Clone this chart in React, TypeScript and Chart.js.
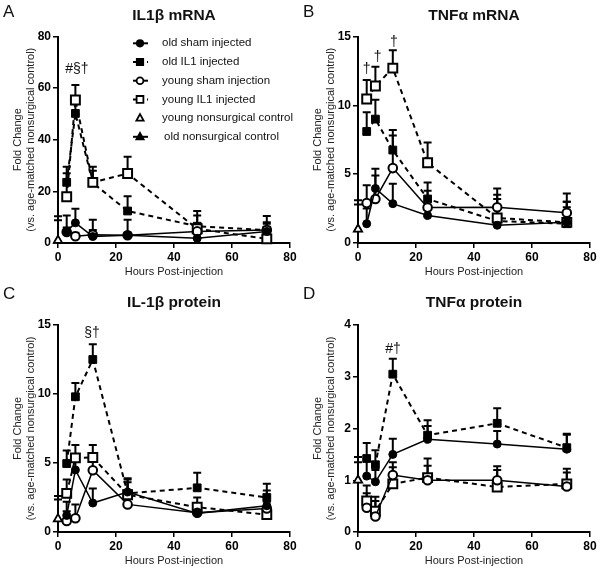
import React, { useEffect, useRef } from 'react';
import { Chart, registerables } from 'chart.js';
Chart.register(...registerables);

const FONT = "'Liberation Sans', Arial, Helvetica, sans-serif";

// ---------- shared ----------
const hours = [3, 6, 12, 24, 48, 72];
const controlHour = [0];
const xTickStep = 20;
const xMax = 80;
const seriesNames = [
  'old sham injected',
  'old IL1 injected',
  'young sham injection',
  'young IL1 injected',
  'young nonsurgical control',
  'old nonsurgical control',
];

// ---------- Panel A: IL1β mRNA ----------
const aOldSham = [4.5, 7.8, 2.5, 3.0, 1.8, 4.5];
const aOldShamTop = [10.7, 13.3, 9.0, 9.0, 5.0, 7.5];
const aOldIL1 = [23.5, 50.2, 23.3, 12.4, 6.5, 5.0];
const aOldIL1Top = [29.5, 54.0, 29.5, 18.1, 12.4, 10.5];
const aYoungSham = [4.3, 2.6, 3.2, 3.0, 4.5, 5.0];
const aYoungShamTop = [6.0, 4.0, 5.0, 4.0, 7.0, 8.0];
const aYoungIL1 = [17.9, 55.4, 23.5, 26.9, 5.5, 1.6];
const aYoungIL1Top = [27.0, 61.2, 28.0, 33.4, 10.7, 4.0];
const aYoungCtrl = [1.0];
const aYoungCtrlTop = [10.4];
const aOldCtrl = [1.0];
const aOldCtrlTop = [8.8];
const aNotes = [{ text: '#§†', x: 6.5, y: 67.5 }];

// ---------- Panel B: TNFα mRNA ----------
const bOldSham = [1.4, 3.96, 2.86, 2.0, 1.29, 1.5];
const bOldShamTop = [2.5, 4.9, 4.3, 2.6, 2.5, 3.0];
const bOldIL1 = [8.1, 9.0, 6.75, 3.2, 1.6, 1.4];
const bOldIL1Top = [9.5, 10.4, 8.2, 4.4, 3.2, 3.0];
const bYoungSham = [2.9, 3.2, 5.44, 2.57, 2.6, 2.2];
const bYoungShamTop = [4.2, 5.4, 7.8, 3.8, 3.96, 3.6];
const bYoungIL1 = [10.46, 11.4, 12.7, 5.83, 1.82, 1.5];
const bYoungIL1Top = [11.84, 12.8, 14.0, 7.3, 3.5, 2.6];
const bYoungCtrl = [1.0];
const bYoungCtrlTop = [3.1];
const bOldCtrl = [1.0];
const bOldCtrlTop = [2.8];
const bNotes = [
  { text: '†', x: 3.0, y: 12.6 },
  { text: '†', x: 6.8, y: 13.5 },
  { text: '†', x: 12.4, y: 14.6 },
];

// ---------- Panel C: IL-1β protein ----------
const cOldSham = [1.2, 4.5, 2.1, 2.9, 1.35, 1.9];
const cOldShamTop = [2.2, 5.3, 3.15, 3.9, 2.0, 3.0];
const cOldIL1 = [4.96, 9.8, 12.5, 2.8, 3.2, 2.5];
const cOldIL1Top = [5.9, 10.8, 13.6, 3.8, 4.3, 3.5];
const cYoungSham = [0.8, 1.0, 4.48, 2.0, 1.4, 1.7];
const cYoungShamTop = [1.5, 2.0, 5.2, 2.5, 1.8, 2.5];
const cYoungIL1 = [2.8, 5.37, 5.4, 2.7, 1.8, 1.26];
const cYoungIL1Top = [3.8, 6.3, 6.3, 3.6, 2.5, 2.2];
const cYoungCtrl = [0.95];
const cYoungCtrlTop = [2.6];
const cOldCtrl = [0.95];
const cOldCtrlTop = [2.35];
const cNotes = [{ text: '§†', x: 11.7, y: 14.4 }];

// ---------- Panel D: TNFα protein ----------
const dOldSham = [1.08, 0.97, 1.5, 1.79, 1.7, 1.6];
const dOldShamTop = [1.4, 1.2, 1.8, 2.05, 1.95, 1.88];
const dOldIL1 = [1.42, 1.3, 3.05, 1.87, 2.1, 1.63];
const dOldIL1Top = [1.72, 1.58, 3.35, 2.16, 2.39, 1.9];
const dYoungSham = [0.47, 0.3, 1.1, 1.0, 1.0, 0.88];
const dYoungShamTop = [0.75, 0.6, 1.35, 1.28, 1.2, 1.15];
const dYoungIL1 = [0.6, 0.4, 0.93, 1.05, 0.87, 0.93];
const dYoungIL1Top = [0.9, 0.68, 1.25, 1.42, 1.27, 1.22];
const dYoungCtrl = [1.0];
const dYoungCtrlTop = [1.45];
const dOldCtrl = [1.0];
const dOldCtrlTop = [1.35];
const dNotes = [{ text: '#†', x: 12.1, y: 3.54 }];

type Note = { text: string; x: number; y: number };
type Panel = {
  letter: string;
  title: string;
  yMax: number;
  yStep: number;
  oldSham: number[]; oldShamTop: number[];
  oldIL1: number[]; oldIL1Top: number[];
  youngSham: number[]; youngShamTop: number[];
  youngIL1: number[]; youngIL1Top: number[];
  youngCtrl: number[]; youngCtrlTop: number[];
  oldCtrl: number[]; oldCtrlTop: number[];
  notes: Note[];
  legend: boolean;
};

const panels: Panel[] = [
  { letter: 'A', title: 'IL1β mRNA', yMax: 80, yStep: 20,
    oldSham: aOldSham, oldShamTop: aOldShamTop, oldIL1: aOldIL1, oldIL1Top: aOldIL1Top,
    youngSham: aYoungSham, youngShamTop: aYoungShamTop, youngIL1: aYoungIL1, youngIL1Top: aYoungIL1Top,
    youngCtrl: aYoungCtrl, youngCtrlTop: aYoungCtrlTop, oldCtrl: aOldCtrl, oldCtrlTop: aOldCtrlTop,
    notes: aNotes, legend: true },
  { letter: 'B', title: 'TNFα mRNA', yMax: 15, yStep: 5,
    oldSham: bOldSham, oldShamTop: bOldShamTop, oldIL1: bOldIL1, oldIL1Top: bOldIL1Top,
    youngSham: bYoungSham, youngShamTop: bYoungShamTop, youngIL1: bYoungIL1, youngIL1Top: bYoungIL1Top,
    youngCtrl: bYoungCtrl, youngCtrlTop: bYoungCtrlTop, oldCtrl: bOldCtrl, oldCtrlTop: bOldCtrlTop,
    notes: bNotes, legend: false },
  { letter: 'C', title: 'IL-1β protein', yMax: 15, yStep: 5,
    oldSham: cOldSham, oldShamTop: cOldShamTop, oldIL1: cOldIL1, oldIL1Top: cOldIL1Top,
    youngSham: cYoungSham, youngShamTop: cYoungShamTop, youngIL1: cYoungIL1, youngIL1Top: cYoungIL1Top,
    youngCtrl: cYoungCtrl, youngCtrlTop: cYoungCtrlTop, oldCtrl: cOldCtrl, oldCtrlTop: cOldCtrlTop,
    notes: cNotes, legend: false },
  { letter: 'D', title: 'TNFα protein', yMax: 4, yStep: 1,
    oldSham: dOldSham, oldShamTop: dOldShamTop, oldIL1: dOldIL1, oldIL1Top: dOldIL1Top,
    youngSham: dYoungSham, youngShamTop: dYoungShamTop, youngIL1: dYoungIL1, youngIL1Top: dYoungIL1Top,
    youngCtrl: dYoungCtrl, youngCtrlTop: dYoungCtrlTop, oldCtrl: dOldCtrl, oldCtrlTop: dOldCtrlTop,
    notes: dNotes, legend: false },
];

const toXY = (xs: number[], ys: number[]) => xs.map((x, i) => ({ x, y: ys[i] }));

function drawMarker(ctx: CanvasRenderingContext2D, kind: string, x: number, y: number, r: number, filled: boolean) {
  ctx.beginPath();
  if (kind === 'circle') ctx.arc(x, y, r, 0, Math.PI * 2);
  else if (kind === 'rect') ctx.rect(x - r, y - r, 2 * r, 2 * r);
  else {
    ctx.moveTo(x, y - r * 1.1);
    ctx.lineTo(x + r, y + r * 0.7);
    ctx.lineTo(x - r, y + r * 0.7);
    ctx.closePath();
  }
  ctx.fillStyle = filled ? '#000' : '#fff';
  ctx.fill();
  ctx.lineWidth = 1.8;
  ctx.strokeStyle = '#000';
  ctx.stroke();
}

function makeDecor(p: Panel, titleY: number, letterY: number) {
  return {
    id: 'decor' + p.letter,
    beforeDatasetsDraw(chart: any) {
      const ctx = chart.ctx as CanvasRenderingContext2D;
      const ys = chart.scales.y;
      ctx.save();
      ctx.strokeStyle = '#000';
      ctx.lineWidth = 2;
      chart.data.datasets.forEach((ds: any, di: number) => {
        const tops: number[] = ds.errTop;
        if (!tops) return;
        const meta = chart.getDatasetMeta(di);
        meta.data.forEach((pt: any, i: number) => {
          const yt = ys.getPixelForValue(tops[i]);
          ctx.beginPath();
          ctx.moveTo(pt.x, pt.y);
          ctx.lineTo(pt.x, yt);
          ctx.moveTo(pt.x - 4, yt);
          ctx.lineTo(pt.x + 4, yt);
          ctx.stroke();
        });
      });
      ctx.restore();
    },
    afterDraw(chart: any) {
      const ctx = chart.ctx as CanvasRenderingContext2D;
      const area = chart.chartArea;
      ctx.save();
      ctx.fillStyle = '#111';
      ctx.textBaseline = 'middle';
      // panel letter
      ctx.font = `17px ${FONT}`;
      ctx.textAlign = 'left';
      ctx.fillText(p.letter, 3, letterY);
      // panel title
      ctx.font = `bold 15.5px ${FONT}`;
      ctx.textAlign = 'center';
      ctx.fillText(p.title, (area.left + area.right) / 2, titleY);
      // significance annotations
      ctx.font = `14px ${FONT}`;
      p.notes.forEach((n) => {
        ctx.fillText(n.text, chart.scales.x.getPixelForValue(n.x), chart.scales.y.getPixelForValue(n.y));
      });
      // legend
      if (p.legend) {
        const styles = [
          { kind: 'circle', filled: true, dash: false, line: true, r: 3.2 },
          { kind: 'rect', filled: true, dash: true, line: true, r: 3.2 },
          { kind: 'circle', filled: false, dash: false, line: true, r: 3.4 },
          { kind: 'rect', filled: false, dash: true, line: true, r: 3.4 },
          { kind: 'tri', filled: false, dash: false, line: false, r: 3.6 },
          { kind: 'tri', filled: true, dash: false, line: true, r: 3.6 },
        ];
        ctx.font = `11.5px ${FONT}`;
        ctx.textAlign = 'left';
        seriesNames.forEach((name, i) => {
          const y = 43.3 + i * 18.7;
          const s = styles[i];
          if (s.line) {
            ctx.save();
            ctx.strokeStyle = '#000';
            ctx.lineWidth = 2;
            if (s.dash) ctx.setLineDash([4, 3]);
            ctx.beginPath();
            ctx.moveTo(133, y);
            ctx.lineTo(148, y);
            ctx.stroke();
            ctx.restore();
          }
          drawMarker(ctx, s.kind, 140, y, s.r, s.filled);
          ctx.fillStyle = '#111';
          ctx.fillText(name, i === 5 ? 164 : 162, y);
        });
      }
      ctx.restore();
    },
  };
}

function PanelChart({ p, width, height, top, left, padTop }: { p: Panel; width: number; height: number; top: number; left: number; padTop: number }) {
  const ref = useRef<HTMLCanvasElement | null>(null);
  useEffect(() => {
    if (!ref.current) return;
    const solid = { borderColor: '#000', tension: 0, clip: false as any };
    const datasets: any[] = [
      { ...solid, label: seriesNames[4], data: toXY(controlHour, p.youngCtrl), errTop: p.youngCtrlTop, showLine: false,
        pointStyle: 'triangle', pointRadius: 4.8, pointBackgroundColor: '#fff', pointBorderColor: '#000', pointBorderWidth: 1.8 },
      { ...solid, label: seriesNames[0], data: toXY(hours, p.oldSham), errTop: p.oldShamTop, borderWidth: 1.5,
        pointStyle: 'circle', pointRadius: 4, pointBackgroundColor: '#000', pointBorderColor: '#000', pointBorderWidth: 1 },
      { ...solid, label: seriesNames[2], data: toXY(hours, p.youngSham), errTop: p.youngShamTop, borderWidth: 1.5,
        pointStyle: 'circle', pointRadius: 4.3, pointBackgroundColor: '#fff', pointBorderColor: '#000', pointBorderWidth: 2 },
      { ...solid, label: seriesNames[3], data: toXY(hours, p.youngIL1), errTop: p.youngIL1Top, borderWidth: 2, borderDash: [5, 4],
        pointStyle: 'rect', pointRadius: 6.3, pointBackgroundColor: '#fff', pointBorderColor: '#000', pointBorderWidth: 2 },
      { ...solid, label: seriesNames[1], data: toXY(hours, p.oldIL1), errTop: p.oldIL1Top, borderWidth: 2, borderDash: [5, 4],
        pointStyle: 'rect', pointRadius: 5.5, pointBackgroundColor: '#000', pointBorderColor: '#000', pointBorderWidth: 1 },
      { ...solid, label: seriesNames[5], data: toXY(controlHour, p.oldCtrl), errTop: p.oldCtrlTop, showLine: false,
        pointStyle: 'triangle', pointRadius: 4.8, pointBackgroundColor: '#000', pointBorderColor: '#000', pointBorderWidth: 1 },
    ];
    const chart = new Chart(ref.current, {
      type: 'line',
      data: { datasets },
      options: {
        animation: false,
        responsive: false,
        devicePixelRatio: 1,
        layout: { padding: { top: padTop, right: 10, left: 0, bottom: 0 } },
        plugins: { legend: { display: false }, tooltip: { enabled: false }, title: { display: false } },
        scales: {
          x: {
            type: 'linear', min: 0, max: xMax,
            ticks: { stepSize: xTickStep, color: '#000', font: { family: FONT, size: 12, weight: 'bold' }, padding: 2 },
            grid: { drawOnChartArea: false, drawTicks: true, tickLength: 5, color: '#000', lineWidth: 1.5 },
            border: { color: '#000', width: 2 },
            title: { display: true, text: 'Hours Post-injection', color: '#222', font: { family: FONT, size: 11 }, padding: { top: 0, bottom: 1.4 } },
            afterFit: (s: any) => { s.height = 37; },
          },
          y: {
            type: 'linear', min: 0, max: p.yMax,
            ticks: { stepSize: p.yStep, color: '#000', font: { family: FONT, size: 12, weight: 'bold' }, padding: 2 },
            grid: { drawOnChartArea: false, drawTicks: true, tickLength: 5, color: '#000', lineWidth: 1.5 },
            border: { color: '#000', width: 2 },
            title: { display: true, text: ['Fold Change', '(vs. age-matched nonsurgical control)'], color: '#222', font: { family: FONT, size: 11 }, padding: { top: 11.4, bottom: 0 } },
            afterFit: (s: any) => { s.width = 58; },
          },
        },
      } as any,
      plugins: [makeDecor(p, padTop === 36.5 ? 15.5 : 23, padTop === 36.5 ? 12.5 : 14)],
    });
    return () => chart.destroy();
  }, [p]);
  return (
    <canvas ref={ref} width={width} height={height}
      style={{ position: 'absolute', left, top, width, height }} />
  );
}

export default function App() {
  return (
    <div style={{ position: 'absolute', left: 0, top: 0, width: 600, height: 569, background: '#fff', overflow: 'hidden' }}>
      <PanelChart p={panels[0]} left={0} top={0} width={300} height={280} padTop={36.5} />
      <PanelChart p={panels[1]} left={300} top={0} width={300} height={280} padTop={36.5} />
      <PanelChart p={panels[2]} left={0} top={280} width={300} height={289} padTop={45} />
      <PanelChart p={panels[3]} left={300} top={280} width={300} height={289} padTop={45} />
    </div>
  );
}
